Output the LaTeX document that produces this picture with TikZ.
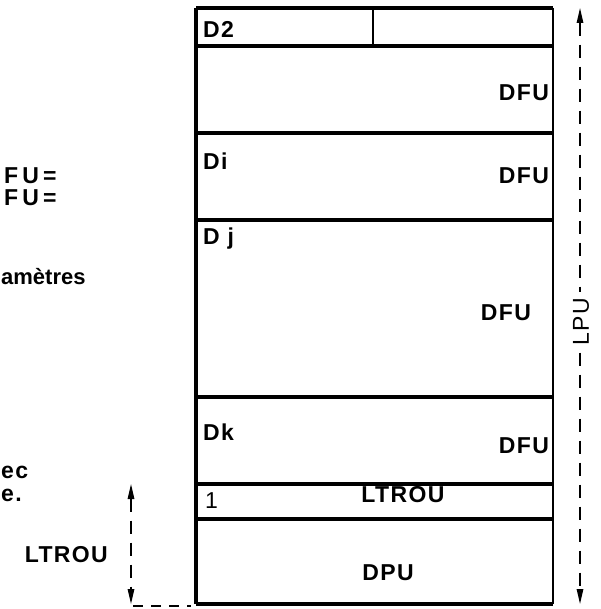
\documentclass[tikz,border=0pt]{standalone}
\usepackage{fontspec}
\usetikzlibrary{arrows.meta}
\newfontfamily\lblfont{Liberation Sans}[LetterSpace=6]
\newfontfamily\widefont{Liberation Sans}[LetterSpace=18]

\tikzset{
  lbl/.style={font=\lblfont\bfseries\fontsize{23}{27}\selectfont, inner sep=0pt},
  thin lbl/.style={font=\lblfont\fontsize{23}{27}\selectfont, inner sep=0pt},
  rowline/.style={line width=4pt},
  dim/.style={dashed, dash pattern=on 13pt off 9pt, line width=1.4pt,
    {Triangle[length=15pt,width=6.5pt]}-{Triangle[length=15pt,width=6.5pt]}},
}

\begin{document}
\begin{tikzpicture}[x=1pt,y=-1pt]
  \useasboundingbox (0,0) rectangle (600,609);
  % column
  \coordinate (TL) at (196,8);
  \coordinate (TR) at (553,8);
  \coordinate (BL) at (196,604);
  \coordinate (BR) at (553,604);
  \draw[line width=3.2pt] (TL) -- (BL);
  \draw[line width=2.8pt] (TR) -- (BR);
  \foreach \y in {8,46,133,220,397,484,519,604}
    \draw[rowline] (196,\y) -- (553,\y);
  \draw[line width=1.2pt] (373,8) -- (373,46);
  % row labels
  \node[lbl, anchor=west] (d2) at (203,29) {D2};
  \node[lbl] (dfua) at (524,93) {DFU};
  \node[lbl, anchor=west] (di) at (203,161) {Di};
  \node[lbl] (dfub) at (524,176) {DFU};
  \node[lbl, anchor=west] (dj) at (203,239) {D j};
  \node[lbl] (dfuc) at (506,313) {DFU};
  \node[lbl, anchor=west] (dk) at (203,432) {Dk};
  \node[lbl] (dfud) at (524,446) {DFU};
  \node[thin lbl, anchor=west] (one) at (205,501) {1};
  \node[lbl] (ltrou) at (403,495) {LTROU};
  \node[lbl] (dpu) at (388,573) {DPU};
  % LPU dimension
  \coordinate (lputop) at (580,8);
  \coordinate (lpubot) at (580,604);
  \draw[dim] (lputop) -- (lpubot);
  \node[thin lbl, rotate=90, fill=white, inner sep=6pt] (lpu) at (581,322) {LPU};
  % LTROU dimension
  \coordinate (ltop) at (131,484);
  \coordinate (lbot) at (131,604);
  \coordinate (lend) at (191,606);
  \draw[dim] (ltop) -- (lbot);
  \draw[dashed, dash pattern=on 10pt off 8pt, line width=1.8pt] (133,606) -- (lend);
  \node[lbl, anchor=east] (ltroul) at (108,555) {LTROU};
  % cut texts on the left
  \node[lbl, anchor=west, font=\widefont\bfseries\fontsize{23}{27}\selectfont] (fua) at (4,176) {FU=};
  \node[lbl, anchor=west, font=\widefont\bfseries\fontsize{23}{27}\selectfont] (fub) at (4,198) {FU=};
  \node[lbl, anchor=west, font=\bfseries\fontsize{22}{26}\selectfont\fontspec{Liberation Sans}] (param) at (1,277) {amètres};
  \node[lbl, anchor=west] (ec) at (1,472) {ec};
  \node[lbl, anchor=west] (ep) at (1,495) {e.};
\end{tikzpicture}
\end{document}
